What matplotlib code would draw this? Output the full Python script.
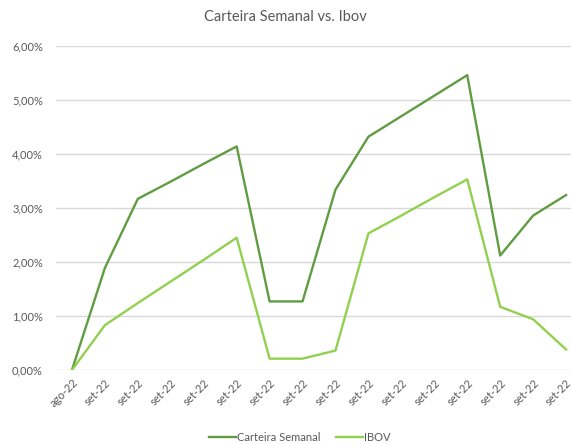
import matplotlib.pyplot as plt
from matplotlib.ticker import FuncFormatter

plt.rcParams['font.family'] = ['Lato', 'DejaVu Sans']

# dados
labels = ['ago-22'] + ['set-22'] * 15
carteira = [0.0, 1.89, 3.17, 3.49, 3.82, 4.14, 1.27, 1.27, 3.34, 4.32, 4.70, 5.08, 5.46, 2.12, 2.86, 3.24]
ibov = [0.0, 0.83, 1.24, 1.64, 2.04, 2.45, 0.21, 0.21, 0.36, 2.53, 2.86, 3.20, 3.53, 1.17, 0.94, 0.38]

c_dark = '#609C41'
c_light = '#92D050'
txt = '#595959'

fig = plt.figure(figsize=(5.71, 4.44), dpi=100)
ax = fig.add_axes([55.5 / 571, 1 - 370 / 444, 1 - 55.5 / 571, (370 - 46) / 444])

x = list(range(len(labels)))
ax.plot(x, [v / 100 for v in carteira], color=c_dark, lw=1.7, label='Carteira Semanal')
ax.plot(x, [v / 100 for v in ibov], color=c_light, lw=1.7, label='IBOV')

ax.set_xlim(-0.5, 15.15)
ax.set_ylim(0, 0.06)
ax.set_yticks([i / 100 for i in range(7)])
ax.yaxis.set_major_formatter(FuncFormatter(lambda v, p: f'{v*100:.2f}%'.replace('.', ',')))
ax.grid(axis='y', color='#D9D9D9', lw=1)
ax.set_axisbelow(True)
for s in ax.spines.values():
    s.set_visible(False)
ax.tick_params(length=0, colors=txt, labelsize=8)
ax.tick_params(axis='y', pad=9)
ax.tick_params(axis='x', pad=5)
ax.set_xticks(x)
ax.set_xticklabels(labels, rotation=45, ha='right', rotation_mode='anchor')

fig.text(0.5, 1 - 17 / 444, 'Carteira Semanal vs. Ibov', ha='center', va='center',
         fontsize=10.5, color=txt)
fig.legend(loc='center', bbox_to_anchor=(300 / 571, 1 - 437 / 444), ncol=2, frameon=False,
           fontsize=8, labelcolor=txt, handlelength=2.4, handletextpad=0.1, columnspacing=1.4)

fig.savefig('out.png', dpi=100)
